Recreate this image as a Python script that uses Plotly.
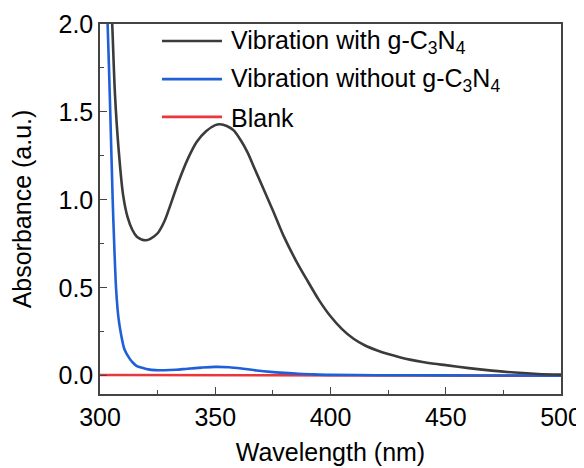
import plotly.graph_objects as go

# ---- data ----
wl_with = [300, 302, 304, 305.3, 306.5, 308, 310, 312, 314, 316, 318, 320, 322, 325, 328, 330,
           334, 338, 342, 346, 350, 352, 355, 358, 361, 364, 367, 370, 375, 380, 385, 390,
           395, 400, 405, 410, 415, 420, 425, 430, 435, 440, 445, 450, 460, 470, 480, 490, 500]
abs_with = [3.5, 3.0, 2.4, 2.0, 1.6, 1.3, 1.03, 0.9, 0.83, 0.79, 0.775, 0.77, 0.78, 0.81, 0.88, 0.95,
            1.10, 1.23, 1.33, 1.39, 1.425, 1.43, 1.42, 1.395, 1.34, 1.27, 1.18, 1.09, 0.94, 0.785, 0.655, 0.54,
            0.43, 0.338, 0.265, 0.21, 0.172, 0.145, 0.123, 0.105, 0.09, 0.078, 0.068, 0.06, 0.043, 0.029, 0.018, 0.01, 0.006]

wl_without = [300, 302, 303.3, 304.3, 305.5, 306.3, 307, 308, 309, 310.6, 312.7, 314.2, 316, 318.4,
              321, 324, 328, 333, 338, 344, 350, 356, 362, 368, 374, 380, 386, 392, 400, 420, 450, 480, 500]
abs_without = [3.0, 2.4, 2.0, 1.57, 1.0, 0.7, 0.49, 0.33, 0.245, 0.15, 0.1, 0.075, 0.055, 0.045,
               0.036, 0.032, 0.031, 0.034, 0.04, 0.046, 0.05, 0.048, 0.04, 0.03, 0.022, 0.016, 0.011, 0.008,
               0.005, 0.003, 0.002, 0.001, 0.0]

wl_blank = [300, 350, 400, 450, 500]
abs_blank = [0.004, 0.003, 0.002, 0.001, 0.0]

series_names = ["Vibration with g-C<sub>3</sub>N<sub>4</sub>",
                "Vibration without g-C<sub>3</sub>N<sub>4</sub>",
                "Blank"]
series_colors = ["#3b3b3b", "#1f5fd8", "#e8383d"]

x_ticks = [300, 350, 400, 450, 500]
y_ticks = [0.0, 0.5, 1.0, 1.5, 2.0]
y_tick_labels = ["0.0", "0.5", "1.0", "1.5", "2.0"]

FONT = "Liberation Sans, Arial, sans-serif"

fig = go.Figure()
fig.add_trace(go.Scatter(x=wl_blank, y=abs_blank, mode="lines", name="Blank",
                         line=dict(color=series_colors[2], width=2.6)))
fig.add_trace(go.Scatter(x=wl_without, y=abs_without, mode="lines", name=series_names[1],
                         line=dict(color=series_colors[1], width=2.6, shape="spline", smoothing=0.8)))
fig.add_trace(go.Scatter(x=wl_with, y=abs_with, mode="lines", name=series_names[0],
                         line=dict(color=series_colors[0], width=2.6, shape="spline", smoothing=0.8)))

axis_common = dict(showline=True, mirror=True, linecolor="#444444", linewidth=1.5,
                   showgrid=False, zeroline=False, ticks="inside", ticklen=7, tickwidth=1.2,
                   tickcolor="#444444", automargin=False,
                   tickfont=dict(family=FONT, size=25, color="black"))

fig.update_xaxes(range=[300, 500], tickvals=x_ticks,
                 minor=dict(ticks="inside", ticklen=4, tickwidth=1.2, tickcolor="#444444", dtick=25),
                 title=dict(text="Wavelength (nm)", font=dict(family=FONT, size=25, color="black"), standoff=14),
                 **axis_common)
fig.update_yaxes(range=[-0.104, 2.0], tickvals=y_ticks, ticktext=y_tick_labels,
                 minor=dict(ticks="inside", ticklen=4, tickwidth=1.2, tickcolor="#444444", dtick=0.25, tick0=0),
                 title=dict(text="Absorbance (a.u.)", font=dict(family=FONT, size=25, color="black"), standoff=21),
                 **axis_common)

# custom legend (long line samples like the reference)
rows_y = [0.954, 0.851, 0.749]
legend_colors = [series_colors[0], series_colors[1], series_colors[2]]
for name, col, yy in zip(series_names, legend_colors, rows_y):
    fig.add_shape(type="line", xref="paper", yref="paper", x0=0.1345, x1=0.2646, y0=yy, y1=yy,
                  line=dict(color=col, width=2.6))
    fig.add_annotation(xref="paper", yref="paper", x=0.2798, y=yy, xanchor="left", yanchor="middle",
                       text=name, showarrow=False, yshift=-1,
                       font=dict(family=FONT, size=25, color="black"))

# the page body has an 8px margin, so the figure is 8px smaller and margins 8px tighter
fig.update_layout(width=576, height=460, showlegend=False,
                  margin=dict(l=92, r=23, t=16, b=74),
                  paper_bgcolor="white", plot_bgcolor="white",
                  font=dict(family=FONT, size=25, color="black"))

fig.write_html("out.html")
